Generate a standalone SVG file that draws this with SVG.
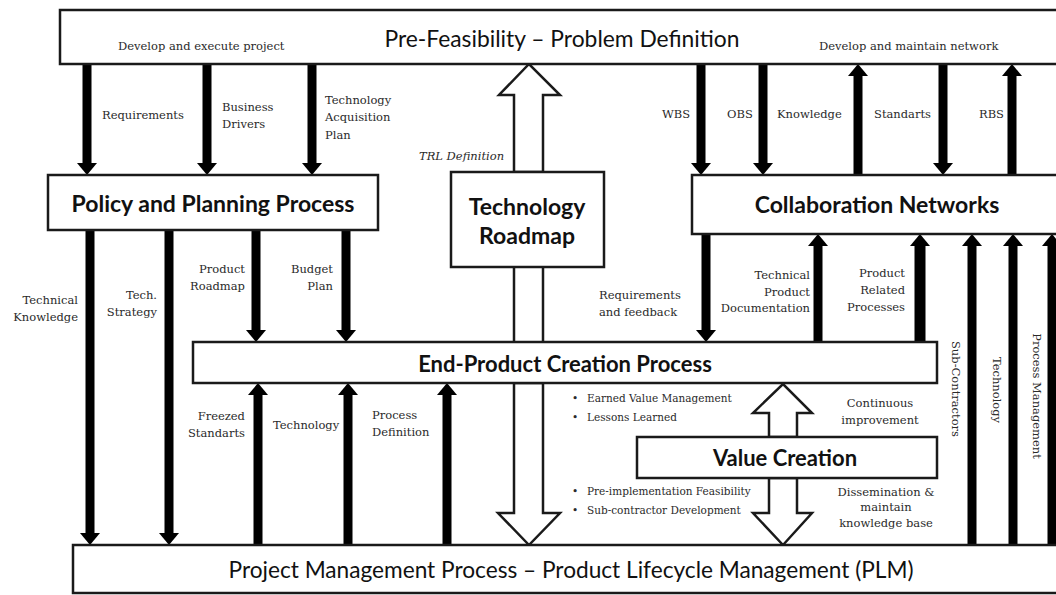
<svg xmlns="http://www.w3.org/2000/svg" width="1056" height="595" viewBox="0 0 1056 595">
  <style>
    .box { fill: #fff; stroke: #1a1a1a; stroke-width: 2.5; }
    .title { font-family: Lato, "Liberation Sans", sans-serif; fill: #111; text-anchor: middle; }
    .bold { font-weight: bold; }
    .lbl { font-family: "DejaVu Serif", "Liberation Serif", serif; font-size: 11.5px; fill: #2a2a2a; }
    .sm { font-size: 10.5px; }
    .end { text-anchor: end; }
    .mid { text-anchor: middle; }
    .flow { stroke: #000; stroke-width: 9; fill: none; }
    .flow.wide { stroke-width: 11; }
    .hollow { fill: #fff; stroke: #1a1a1a; stroke-width: 2.5; stroke-linejoin: miter; }
  </style>
  <defs>
    <marker id="head" markerUnits="userSpaceOnUse" viewBox="0 0 12 20" refX="0" refY="10" markerWidth="12" markerHeight="20" orient="auto">
      <path d="M0,0 L12,10 L0,20 Z" fill="#000"/>
    </marker>
  </defs>

  <rect width="1056" height="595" fill="#fff"/>

  <!-- connectors -->
  <g id="connectors">
    <!-- top box to policy / collaboration -->
    <line class="flow" x1="87" y1="64" x2="87" y2="163" marker-end="url(#head)"/>
    <line class="flow" x1="207" y1="64" x2="207" y2="163" marker-end="url(#head)"/>
    <line class="flow" x1="312" y1="64" x2="312" y2="163" marker-end="url(#head)"/>
    <line class="flow" x1="701" y1="64" x2="701" y2="163" marker-end="url(#head)"/>
    <line class="flow" x1="763" y1="64" x2="763" y2="163" marker-end="url(#head)"/>
    <line class="flow" x1="858" y1="175" x2="858" y2="76" marker-end="url(#head)"/>
    <line class="flow" x1="943" y1="64" x2="943" y2="163" marker-end="url(#head)"/>
    <line class="flow" x1="1012" y1="175" x2="1012" y2="76" marker-end="url(#head)"/>

    <!-- policy to PLM / end-product -->
    <line class="flow" x1="90" y1="230" x2="90" y2="533" marker-end="url(#head)"/>
    <line class="flow" x1="169" y1="230" x2="169" y2="533" marker-end="url(#head)"/>
    <line class="flow" x1="256" y1="230" x2="256" y2="330" marker-end="url(#head)"/>
    <line class="flow" x1="346" y1="230" x2="346" y2="330" marker-end="url(#head)"/>

    <!-- PLM to end-product -->
    <line class="flow" x1="258" y1="545" x2="258" y2="395" marker-end="url(#head)"/>
    <line class="flow" x1="348" y1="545" x2="348" y2="395" marker-end="url(#head)"/>
    <line class="flow" x1="447" y1="545" x2="447" y2="395" marker-end="url(#head)"/>

    <!-- collaboration and end-product -->
    <line class="flow" x1="706" y1="234" x2="706" y2="330" marker-end="url(#head)"/>
    <line class="flow" x1="818" y1="342" x2="818" y2="246" marker-end="url(#head)"/>
    <line class="flow wide" x1="920" y1="342" x2="920" y2="246" marker-end="url(#head)"/>

    <!-- PLM to collaboration -->
    <line class="flow" x1="972" y1="545" x2="972" y2="246" marker-end="url(#head)"/>
    <line class="flow" x1="1013" y1="545" x2="1013" y2="246" marker-end="url(#head)"/>
    <line class="flow" x1="1052" y1="545" x2="1052" y2="246" marker-end="url(#head)"/>

    <!-- hollow arrows -->
    <polygon class="hollow" points="514,172 514,95 499,95 529,64 560,95 543,95 543,172"/>
    <rect x="514" y="267" width="29" height="75" fill="#fff"/>
    <line x1="514" y1="267" x2="514" y2="342" stroke="#1a1a1a" stroke-width="2.5"/>
    <line x1="543" y1="267" x2="543" y2="342" stroke="#1a1a1a" stroke-width="2.5"/>
    <polygon class="hollow" points="514,383 514,513 498,513 529,545 560,513 543,513 543,383"/>
    <polygon class="hollow" points="769,437 769,413 753,413 783,384 812,413 797,413 797,437"/>
    <polygon class="hollow" points="769,478 769,513 753,513 783,545 812,513 797,513 797,478"/>
  </g>

  <!-- nodes -->
  <g id="pre-feasibility">
    <rect class="box" x="60" y="10" width="1010" height="54"/>
    <text class="title" x="562" y="47" font-size="23" textLength="355" lengthAdjust="spacingAndGlyphs">Pre-Feasibility – Problem Definition</text>
    <text class="lbl" x="118" y="50">Develop and execute project</text>
    <text class="lbl" x="819" y="50">Develop and maintain network</text>
  </g>

  <g id="policy">
    <rect class="box" x="48" y="175" width="330" height="55"/>
    <text class="title bold" x="213" y="212" font-size="23">Policy and Planning Process</text>
  </g>

  <g id="roadmap">
    <rect class="box" x="451" y="172" width="153" height="95"/>
    <text class="title bold" x="527" y="215" font-size="23">Technology</text>
    <text class="title bold" x="527" y="244" font-size="23">Roadmap</text>
  </g>

  <g id="collaboration">
    <rect class="box" x="692" y="175" width="380" height="59"/>
    <text class="title bold" x="877" y="213" font-size="23">Collaboration Networks</text>
  </g>

  <g id="end-product">
    <rect class="box" x="193" y="342" width="744" height="41"/>
    <text class="title bold" x="565" y="372" font-size="22">End-Product Creation Process</text>
  </g>

  <g id="value-creation">
    <rect class="box" x="637" y="437" width="300" height="41"/>
    <text class="title bold" x="785" y="466" font-size="22">Value Creation</text>
  </g>

  <g id="plm">
    <rect class="box" x="73" y="545" width="1000" height="48"/>
    <text class="title" x="571" y="578" font-size="23" textLength="685" lengthAdjust="spacingAndGlyphs">Project Management Process – Product Lifecycle Management (PLM)</text>
  </g>

  <!-- connector labels -->
  <g id="labels" class="lbl">
    <text x="102" y="119">Requirements</text>
    <text x="222" y="111">Business</text>
    <text x="222" y="128">Drivers</text>
    <text x="325" y="104">Technology</text>
    <text x="325" y="121">Acquisition</text>
    <text x="325" y="139">Plan</text>
    <text x="419" y="160" font-style="italic">TRL Definition</text>

    <text x="662" y="118">WBS</text>
    <text x="727" y="118">OBS</text>
    <text x="777" y="118">Knowledge</text>
    <text x="874" y="118">Standarts</text>
    <text x="979" y="118">RBS</text>

    <text class="end" x="78" y="304">Technical</text>
    <text class="end" x="78" y="321">Knowledge</text>
    <text class="end" x="157" y="299">Tech.</text>
    <text class="end" x="157" y="316">Strategy</text>
    <text class="end" x="245" y="273">Product</text>
    <text class="end" x="245" y="290">Roadmap</text>
    <text class="end" x="333" y="273">Budget</text>
    <text class="end" x="333" y="290">Plan</text>

    <text x="599" y="299">Requirements</text>
    <text x="599" y="316">and feedback</text>
    <text class="end" x="810" y="279">Technical</text>
    <text class="end" x="810" y="296">Product</text>
    <text class="end" x="810" y="312">Documentation</text>
    <text class="end" x="905" y="277">Product</text>
    <text class="end" x="905" y="294">Related</text>
    <text class="end" x="905" y="311">Processes</text>

    <text class="end" x="245" y="420">Freezed</text>
    <text class="end" x="245" y="437">Standarts</text>
    <text x="273" y="429">Technology</text>
    <text x="372" y="419">Process</text>
    <text x="372" y="436">Definition</text>

    <text class="sm" x="572" y="402">•</text>
    <text class="sm" x="587" y="402">Earned Value Management</text>
    <text class="sm" x="572" y="421">•</text>
    <text class="sm" x="587" y="421">Lessons Learned</text>
    <text class="sm" x="572" y="495">•</text>
    <text class="sm" x="587" y="495">Pre-implementation Feasibility</text>
    <text class="sm" x="572" y="514">•</text>
    <text class="sm" x="587" y="514">Sub-contractor Development</text>

    <text class="mid" x="880" y="407">Continuous</text>
    <text class="mid" x="880" y="424">improvement</text>
    <text class="mid" x="886" y="496">Dissemination &amp;</text>
    <text class="mid" x="886" y="511">maintain</text>
    <text class="mid" x="886" y="527">knowledge base</text>

    <text class="mid" transform="translate(952,389) rotate(90)">Sub-Contractors</text>
    <text class="mid" transform="translate(993,390) rotate(90)">Technology</text>
    <text class="mid" transform="translate(1033,396) rotate(90)">Process Management</text>
  </g>
</svg>
